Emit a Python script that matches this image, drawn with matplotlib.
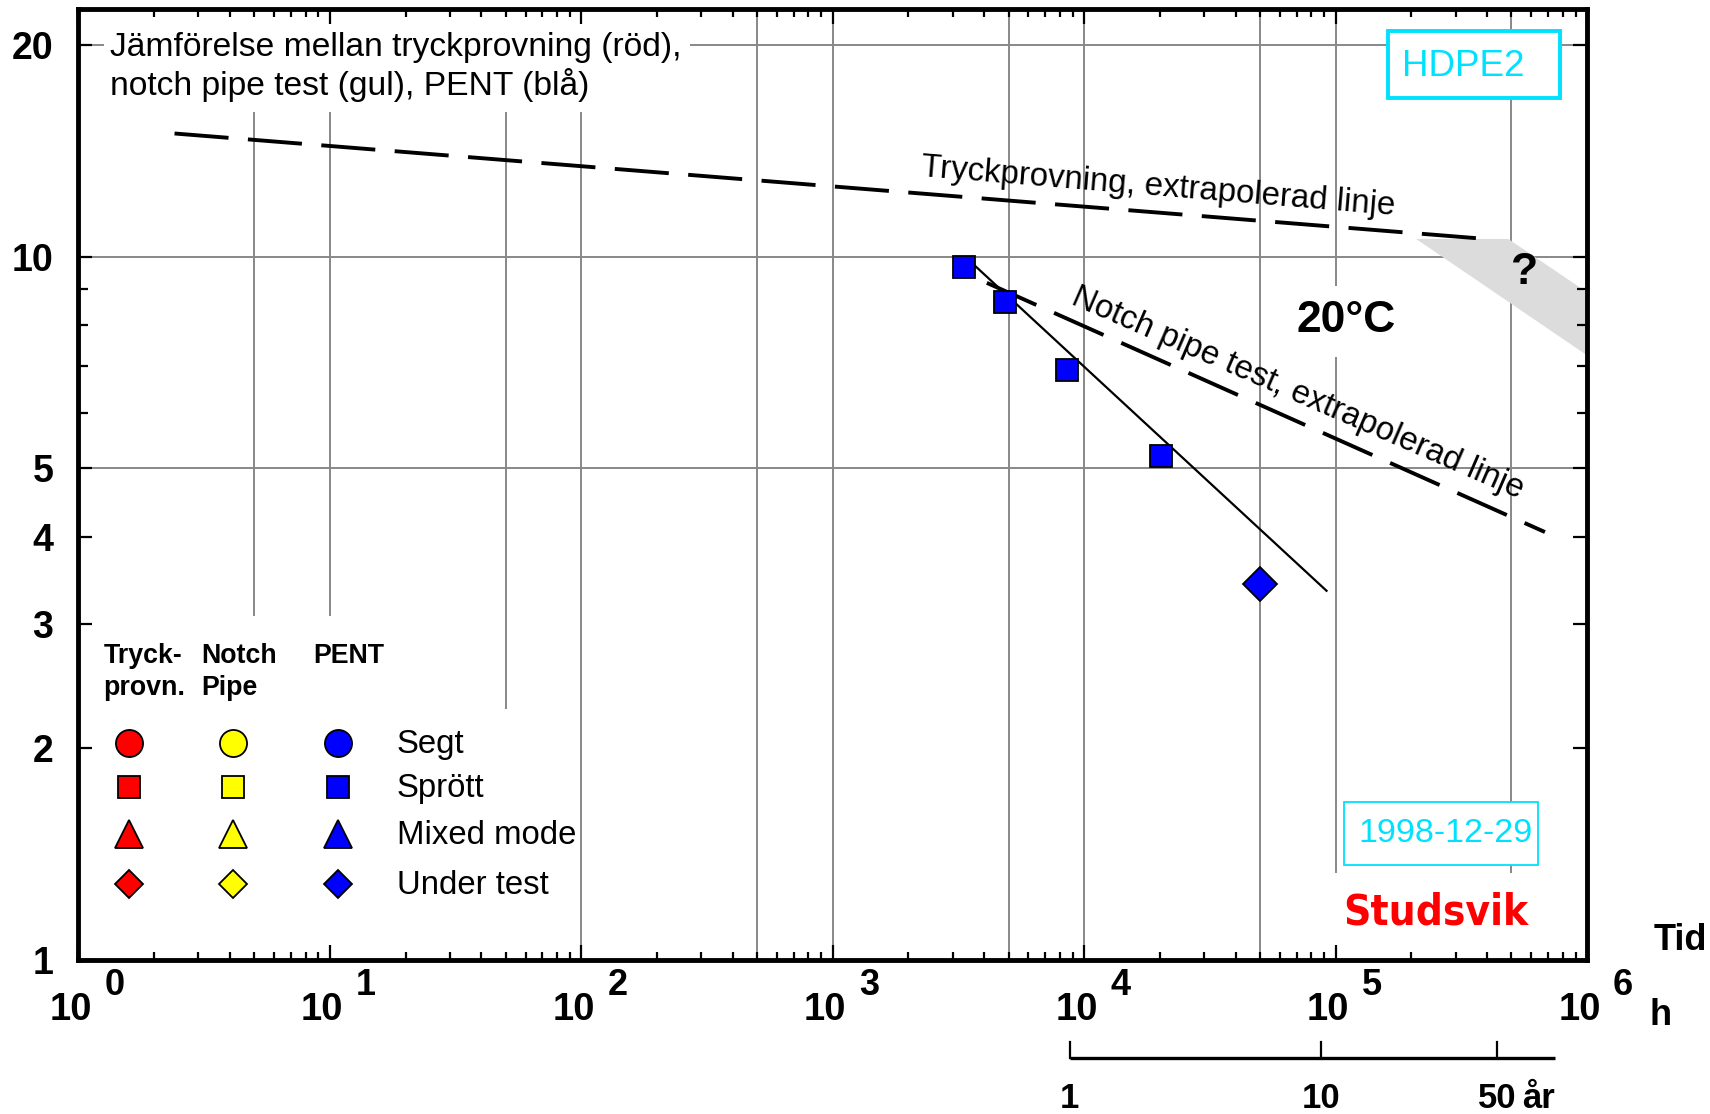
import matplotlib
matplotlib.use('Agg')
import matplotlib.pyplot as plt
from matplotlib import font_manager
from matplotlib.patches import Rectangle, Polygon
from matplotlib.ticker import FixedLocator, NullFormatter

plt.rcParams['font.family'] = ['Liberation Sans', 'DejaVu Sans']
plt.rcParams['lines.scale_dashes'] = False

# tid i timmar, spänning i MPa
pent_sprott_tid = [3320, 4860, 8580, 20200]
pent_sprott_spanning = [9.68, 8.62, 6.90, 5.20]
pent_test_tid = [50000]
pent_test_spanning = [3.42]

pent_linje_tid = [3630, 92000]
pent_linje_spanning = [9.75, 3.35]

tryck_linje_tid = [2.41, 3.7e5]
tryck_linje_spanning = [14.97, 10.62]
notch_linje_tid = [4100, 6.8e5]
notch_linje_spanning = [9.18, 4.06]

osaker_tid = [2.09e5, 4.86e5, 1e6, 1e6]
osaker_spanning = [10.6, 10.6, 8.9, 7.24]

y_ticks = [1, 2, 3, 4, 5, 10, 20]
y_minor = [6, 7, 8, 9]
x_exponenter = [0, 1, 2, 3, 4, 5, 6]
grid_x = [5, 10, 50, 100, 500, 1e3, 5e3, 1e4, 5e4, 1e5, 5e5]
grid_y = [5, 10, 20]

timmar_per_ar = 8760
ar_ticks = [1, 10, 50]
ar_labels = ['1', '10', '50']
ar_axel = [1, 85]

leg_kolumner = [['Tryck-', 'provn.'], ['Notch', 'Pipe'], ['PENT']]
leg_farger = ['#ff0000', '#ffff00', '#0000ff']
leg_rader = ['Segt', 'Sprött', 'Mixed mode', 'Under test']
leg_markorer = ['o', 's', '^', 'D']
leg_storlek = [19.5, 15.5, 19.5, 14.5]

cyan = '#00e1ff'

# smalt typsnitt till logotypen om något finns installerat
logo_font = None
for fam, stretch in [('Liberation Sans Narrow', 'normal'), ('DejaVu Sans Condensed', 'normal'),
                     ('DejaVu Sans', 'condensed'), ('Open Sans Condensed', 'normal'),
                     ('Roboto Condensed', 'normal'), ('Noto Sans', 'condensed')]:
    try:
        p = font_manager.findfont(font_manager.FontProperties(family=fam, weight='bold', stretch=stretch),
                                  fallback_to_default=False)
    except Exception:
        continue
    if 'Narrow' in p or 'Condensed' in p:
        logo_font = (fam, stretch)
        break

fig = plt.figure(figsize=(17.1, 11.14), dpi=100)
ax = fig.add_axes([0.0459, 0.1382, 0.8822, 0.8537])
ax.set_xscale('log')
ax.set_yscale('log')
ax.set_xlim(1, 1e6)
ax.set_ylim(1, 22.5)

# axlar
for s in ax.spines.values():
    s.set_linewidth(3.5)
ax.xaxis.set_major_locator(FixedLocator([10.0 ** e for e in x_exponenter]))
ax.xaxis.set_minor_locator(FixedLocator([m * 10.0 ** e for e in x_exponenter[:-1] for m in range(2, 10)]))
ax.xaxis.set_major_formatter(NullFormatter())
ax.xaxis.set_minor_formatter(NullFormatter())
ax.yaxis.set_major_locator(FixedLocator(y_ticks))
ax.yaxis.set_minor_locator(FixedLocator(y_minor))
ax.yaxis.set_minor_formatter(NullFormatter())
ax.set_yticklabels([str(t) for t in y_ticks], fontsize=27, fontweight='bold')
ax.tick_params(which='both', direction='in', top=True, right=True, width=1.6)
ax.tick_params(axis='x', which='major', length=11)
ax.tick_params(axis='x', which='minor', length=6)
ax.tick_params(axis='y', which='major', length=10, pad=18)
ax.tick_params(axis='y', which='minor', length=7)

# rutnät
for gx in grid_x:
    ax.axvline(gx, color='#888888', lw=1.4, zorder=0.5)
for gy in grid_y:
    ax.axhline(gy, color='#888888', lw=1.4, zorder=0.5)

# vita ytor som döljer rutnätet bakom texter
vita = [(0.0166, 0.892, 0.389, 0.108),   # rubrik
        (0.805, 0.634, 0.07, 0.075),     # 20°C
        (0.0, 0.264, 0.208, 0.098),      # legendrubriker
        (0.0, 0.0, 0.329, 0.264),        # legend
        (0.828, 0.0, 0.172, 0.092)]      # logotyp
for x0, y0, w, h in vita:
    ax.add_patch(Rectangle((x0, y0), w, h, transform=ax.transAxes,
                           facecolor='white', edgecolor='none', zorder=1))

# osäkerhetsområde
ax.add_patch(Polygon(list(zip(osaker_tid, osaker_spanning)), closed=True,
                     facecolor='#dcdcdc', edgecolor='none', zorder=1.5))

# linjer
ax.plot(tryck_linje_tid, tryck_linje_spanning, color='black', lw=2.8,
        dashes=(39, 14), zorder=2)
ax.plot(notch_linje_tid, notch_linje_spanning, color='black', lw=2.8,
        dashes=(39, 14), zorder=2)
ax.plot(pent_linje_tid, pent_linje_spanning, color='black', lw=1.6, zorder=2)

# PENT-punkter
ax.plot(pent_sprott_tid, pent_sprott_spanning, 's', ms=16, mfc='#0000ff',
        mec='black', mew=1.3, zorder=3)
ax.plot(pent_test_tid, pent_test_spanning, 'D', ms=17, mfc='#0000ff',
        mec='black', mew=1.3, zorder=3)

# texter
ax.text(0.021, 0.9507, 'Jämförelse mellan tryckprovning (röd),', transform=ax.transAxes,
        fontsize=24.2, va='baseline', zorder=4)
ax.text(0.021, 0.9094, 'notch pipe test (gul), PENT (blå)', transform=ax.transAxes,
        fontsize=24.2, va='baseline', zorder=4)
ax.text(0.7158, 0.8125, 'Tryckprovning, extrapolerad linje', transform=ax.transAxes,
        fontsize=23.8, rotation=-4.7, rotation_mode='anchor', ha='center', va='center', zorder=4)
ax.text(0.8084, 0.5963, 'Notch pipe test, extrapolerad linje', transform=ax.transAxes,
        fontsize=23.8, rotation=-23.5, rotation_mode='anchor', ha='center', va='center', zorder=4)
ax.text(0.8402, 0.673, '20°C', transform=ax.transAxes, fontsize=32, fontweight='bold',
        ha='center', va='center', zorder=4)
ax.text(0.9588, 0.7225, '?', transform=ax.transAxes, fontsize=32, fontweight='bold',
        ha='center', va='center', zorder=4)

# HDPE2-ruta
ax.add_patch(Rectangle((0.868, 0.906), 0.114, 0.071, transform=ax.transAxes,
                       facecolor='white', edgecolor=cyan, lw=2.8, zorder=3))
ax.text(0.8775, 0.9392, 'HDPE2', transform=ax.transAxes, fontsize=26.5, color=cyan,
        va='center', zorder=4)

# datum och logotyp
ax.add_patch(Rectangle((0.839, 0.0998), 0.1285, 0.0662, transform=ax.transAxes,
                       facecolor='white', edgecolor=cyan, lw=1.3, zorder=3))
ax.text(0.906, 0.133, '1998-12-29', transform=ax.transAxes, fontsize=24.5, color=cyan,
        ha='center', va='center', zorder=4)
if logo_font:
    logo = ax.text(0.8995, 0.0505, 'Studsvik', transform=ax.transAxes, fontsize=40,
                   color='#ff0000', fontweight='bold', family=logo_font[0],
                   fontstretch=logo_font[1], ha='center', va='center', zorder=4)
    fig.canvas.draw()
    logo.set_fontsize(min(46, 40 * 185 / logo.get_window_extent().width))
else:
    ax.text(0.8995, 0.0505, 'Studsvik', transform=ax.transAxes, fontsize=36,
            color='#ff0000', fontweight='bold', ha='center', va='center', zorder=4)

# legend
leg_x = [0.0333, 0.1027, 0.1721]
leg_y = [0.2282, 0.1823, 0.1330, 0.0803]
rubrik_x = [0.0166, 0.0811, 0.1555]
for rx, rader in zip(rubrik_x, leg_kolumner):
    for i, r in enumerate(rader):
        ax.text(rx, 0.3119 - i * 0.0332, r, transform=ax.transAxes, fontsize=19.3,
                fontweight='bold', va='baseline', zorder=4)
for lx, farg in zip(leg_x, leg_farger):
    for ly, mk, ms in zip(leg_y, leg_markorer, leg_storlek):
        ax.plot([lx], [ly], mk, ms=ms, mfc=farg, mec='black', mew=1.3,
                transform=ax.transAxes, zorder=4, clip_on=False)
for ly, namn in zip(leg_y, leg_rader):
    ax.text(0.2111, ly - 0.002, namn, transform=ax.transAxes, fontsize=23.7,
            va='center', zorder=4)

# x-axelns etiketter som 10 med exponent
xt = ax.get_xaxis_transform()
for e in x_exponenter:
    ax.annotate('10', xy=(10.0 ** e, 0), xycoords=xt, xytext=(-5.5, -43.5),
                textcoords='offset points', ha='center', va='baseline',
                fontsize=27.5, fontweight='bold', annotation_clip=False)
    ax.annotate(str(e), xy=(10.0 ** e, 0), xycoords=xt, xytext=(26, -25),
                textcoords='offset points', ha='center', va='baseline',
                fontsize=26, fontweight='bold', annotation_clip=False)

fig.text(0.9825, 0.1472, 'Tid', fontsize=26, fontweight='bold', ha='center', va='baseline')
fig.text(0.9713, 0.0799, 'h', fontsize=26, fontweight='bold', ha='center', va='baseline')

# årsskala under x-axeln
ax.plot([a * timmar_per_ar for a in ar_axel], [-0.1025, -0.1025], color='black', lw=2.4,
        transform=xt, clip_on=False, solid_capstyle='butt')
for a, lab in zip(ar_ticks, ar_labels):
    ax.plot([a * timmar_per_ar] * 2, [-0.1025, -0.0859], color='black', lw=1.6,
            transform=xt, clip_on=False)
    ax.text(a * timmar_per_ar, -0.1556, lab, transform=xt, fontsize=25,
            fontweight='bold', ha='center', va='baseline')
ax.annotate('år', xy=(ar_ticks[-1] * timmar_per_ar, -0.1556), xycoords=xt,
            xytext=(18, 0), textcoords='offset points', ha='left', va='baseline',
            fontsize=25, fontweight='bold', annotation_clip=False)

fig.savefig('out.png', dpi=100)
